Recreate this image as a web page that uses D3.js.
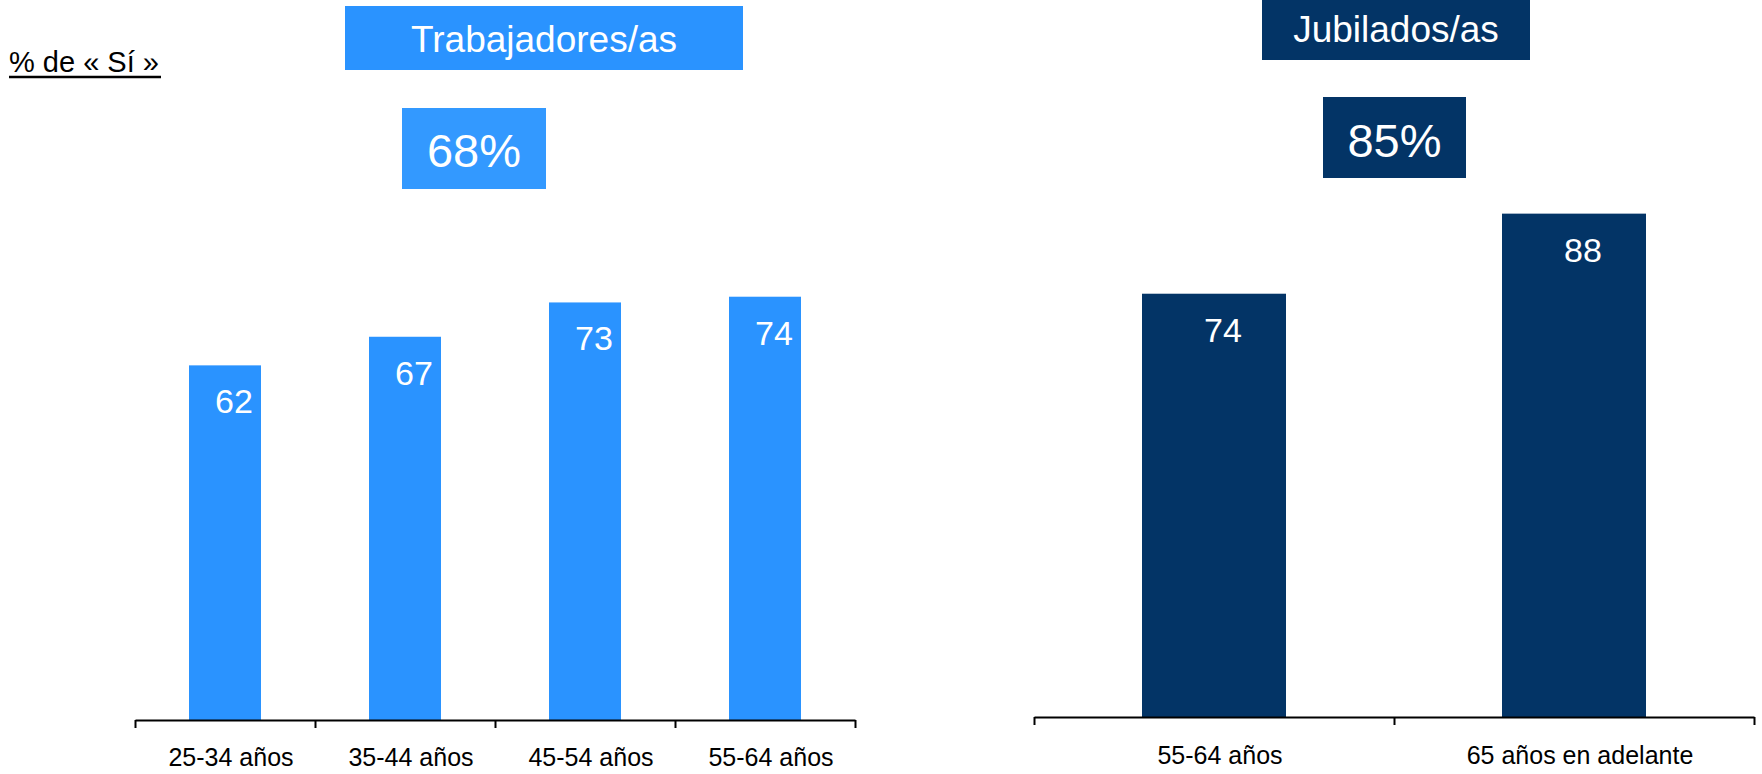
<!DOCTYPE html>
<html>
<head>
<meta charset="utf-8">
<script src="https://cdn.jsdelivr.net/npm/d3@7"></script>
<style>
  html, body { margin: 0; padding: 0; background: #fff; }
  svg { display: block; font-family: "Liberation Sans", Arial, sans-serif; }
</style>
</head>
<body>
<svg id="chart" width="1762" height="774"></svg>
<script>
// ---- Data ----
const workerCategories = ["25-34 años", "35-44 años", "45-54 años", "55-64 años"];
const workerValues = [62, 67, 73, 74];
const retireeCategories = ["55-64 años", "65 años en adelante"];
const retireeValues = [74, 88];
const workerTitle = "Trabajadores/as";
const retireeTitle = "Jubilados/as";
const workerTotal = "68%";
const retireeTotal = "85%";
const yLabel = "% de « Sí »";

// ---- Styles ----
const lightBlue = "#2A93FF";
const lightBlueBox = "#3399FF";
const navy = "#033466";

const svg = d3.select("#chart");

// y-axis label with underline
svg.append("text").attr("x", 9).attr("y", 72)
  .attr("font-size", 29).attr("fill", "#000").text(yLabel);
svg.append("line").attr("x1", 9).attr("x2", 161).attr("y1", 77).attr("y2", 77)
  .attr("stroke", "#000").attr("stroke-width", 2.5);

function header(x0, x1, y0, y1, color, label, baseline, size) {
  svg.append("rect").attr("x", x0).attr("y", y0).attr("width", x1 - x0).attr("height", y1 - y0)
    .attr("fill", color);
  svg.append("text").attr("x", (x0 + x1) / 2).attr("y", baseline)
    .attr("text-anchor", "middle").attr("font-size", size).attr("fill", "#fff").text(label);
}

header(345, 743, 6, 70, lightBlue, workerTitle, 52, 37);
header(402, 546, 108, 189, lightBlueBox, workerTotal, 167, 47);
header(1262, 1530, 0, 60, navy, retireeTitle, 42, 37);
header(1323, 1466, 97, 178, navy, retireeTotal, 157, 47);

function panel(cats, vals, color, xRange, yBase, labelBaseline) {
  const x = d3.scaleBand().domain(cats).range(xRange).paddingInner(0.6).paddingOuter(0.3);
  const y = d3.scaleLinear().domain([0, 100]).range([yBase, yBase - 572]);
  const g = svg.append("g");

  g.selectAll("rect.bar").data(vals).join("rect").attr("class", "bar")
    .attr("x", (d, i) => x(cats[i]))
    .attr("width", x.bandwidth())
    .attr("y", d => y(d))
    .attr("height", d => y(0) - y(d))
    .attr("fill", color);

  g.selectAll("text.val").data(vals).join("text").attr("class", "val")
    .attr("x", (d, i) => x(cats[i]) + x.bandwidth() / 2 + 9)
    .attr("y", d => y(d) + 48)
    .attr("text-anchor", "middle").attr("font-size", 34).attr("fill", "#fff")
    .text(d => d);

  // axis with ticks at band boundaries
  const edge = d3.scaleLinear().domain([0, cats.length]).range(xRange);
  const axis = d3.axisBottom(edge).tickValues(d3.range(cats.length + 1))
    .tickSize(8).tickSizeOuter(0).tickFormat("");
  const ag = g.append("g").attr("transform", `translate(0,${yBase})`).call(axis);
  ag.select(".domain").attr("stroke", "#000").attr("stroke-width", 2);
  ag.selectAll(".tick line").attr("stroke", "#000").attr("stroke-width", 2);

  g.selectAll("text.cat").data(cats).join("text").attr("class", "cat")
    .attr("x", d => x(d) + x.bandwidth() / 2 + 6)
    .attr("y", labelBaseline)
    .attr("text-anchor", "middle").attr("font-size", 25).attr("fill", "#000")
    .text(d => d);
}

panel(workerCategories, workerValues, lightBlue, [135, 855], 720, 766);
panel(retireeCategories, retireeValues, navy, [1034, 1754], 717, 764);
</script>
</body>
</html>
